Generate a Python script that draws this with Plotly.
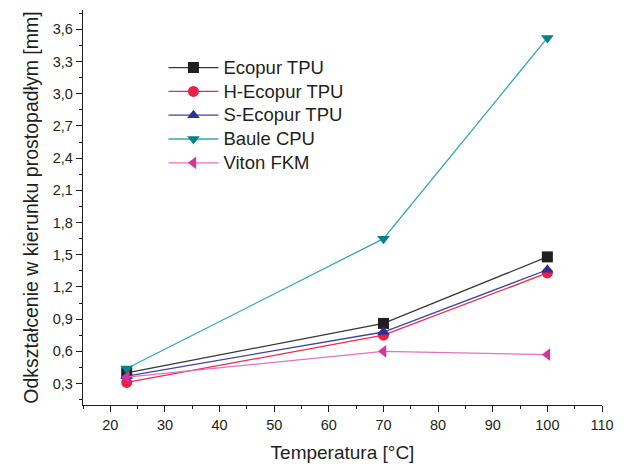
import plotly.graph_objects as go

temps = [23, 70, 100]
series_names = ["Ecopur TPU", "H-Ecopur TPU", "S-Ecopur TPU", "Baule CPU", "Viton FKM"]
ecopur = [0.40, 0.86, 1.48]
h_ecopur = [0.31, 0.75, 1.33]
s_ecopur = [0.37, 0.78, 1.36]
baule = [0.44, 1.65, 3.52]
viton = [0.36, 0.60, 0.57]

values = [ecopur, h_ecopur, s_ecopur, baule, viton]
line_colors = ["#3a3536", "#f0284f", "#3b47a0", "#33a8b4", "#e273bd"]
marker_colors = ["#231f20", "#ed1f47", "#2e3192", "#00838c", "#d2359c"]
symbols = ["square", "circle", "triangle-up", "triangle-down", "triangle-left"]

fig = go.Figure()
for name, v, lc, mc, s in zip(series_names, values, line_colors, marker_colors, symbols):
    fig.add_trace(go.Scatter(
        x=temps, y=v, mode="lines+markers",
        name='<span style="font-size:18.5px">' + name + '</span>',
        line=dict(color=lc, width=1.3),
        marker=dict(color=mc, symbol=s, size=11, line=dict(width=0)),
    ))

# page body has an 8px margin: shrink the figure and offset margins accordingly
fig.update_layout(
    width=621, height=462,
    margin=dict(l=75, r=27, t=2, b=65, autoexpand=False),
    paper_bgcolor="white", plot_bgcolor="white",
    separators=", ",
    font=dict(family="Liberation Sans, Arial, sans-serif", color="#231f20"),
    showlegend=True,
    legend=dict(x=0.155, y=0.897, xanchor="left", yanchor="top",
                font=dict(size=16, color="#231f20"), bgcolor="rgba(0,0,0,0)",
                tracegroupgap=0, itemwidth=50),
)
fig.update_xaxes(
    range=[15, 110], tickvals=list(range(20, 111, 10)),
    showline=True, linecolor="#231f20", linewidth=1.3,
    ticks="outside", ticklen=6, tickcolor="#231f20", tickwidth=1.3,
    minor=dict(ticks="outside", ticklen=3, dtick=5, tick0=15, tickcolor="#231f20", tickwidth=1.3),
    showgrid=False, zeroline=False, automargin=False,
    tickfont=dict(size=14.5),
    title=dict(text="Temperatura [°C]", font=dict(size=19), standoff=14),
)
fig.update_yaxes(
    range=[0.1, 3.78], tickvals=[round(0.3 * i, 1) for i in range(1, 13)], tickformat=".1f",
    showline=True, linecolor="#231f20", linewidth=1.3,
    ticks="outside", ticklen=6, tickcolor="#231f20", tickwidth=1.3,
    minor=dict(ticks="outside", ticklen=3, dtick=0.15, tick0=0.15, tickcolor="#231f20", tickwidth=1.3),
    showgrid=False, zeroline=False, automargin=False,
    tickfont=dict(size=14.5),
    title=dict(text="Odkształcenie w kierunku prostopadłym [mm]", font=dict(size=19.5), standoff=8),
)

fig.write_html("out.html")
